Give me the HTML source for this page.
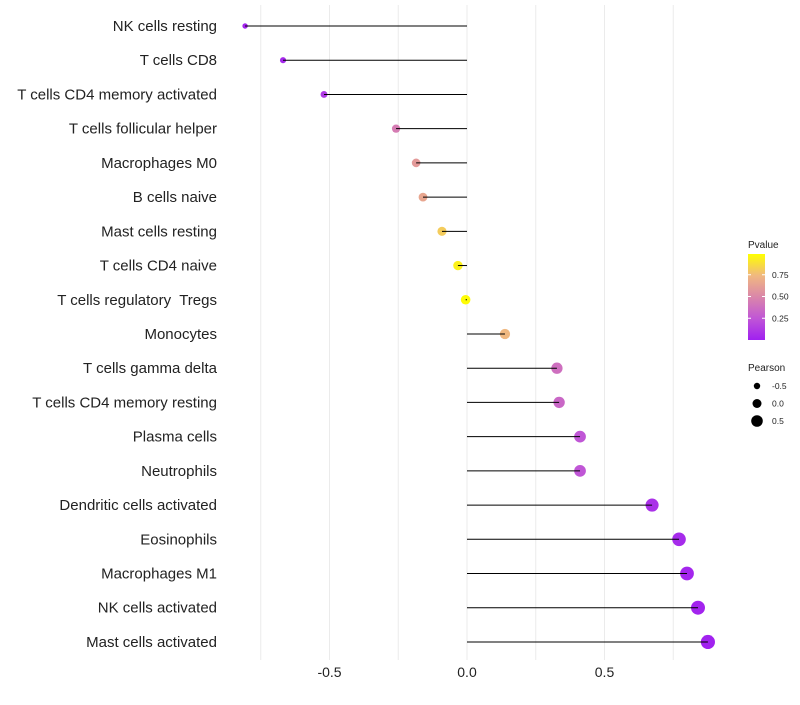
<!DOCTYPE html>
<html><head><meta charset="utf-8"><style>
body{margin:0;background:#fff;font-family:"Liberation Sans",sans-serif}
text{white-space:pre}
</style></head><body>
<svg id="chart" width="800" height="700" xmlns="http://www.w3.org/2000/svg" font-family="Liberation Sans, sans-serif"></svg>
<script>
const categories=["NK cells resting","T cells CD8","T cells CD4 memory activated","T cells follicular helper","Macrophages M0","B cells naive","Mast cells resting","T cells CD4 naive","T cells regulatory  Tregs","Monocytes","T cells gamma delta","T cells CD4 memory resting","Plasma cells","Neutrophils","Dendritic cells activated","Eosinophils","Macrophages M1","NK cells activated","Mast cells activated"];
const pearson=[-0.807,-0.669,-0.52,-0.258,-0.185,-0.16,-0.091,-0.033,-0.005,0.138,0.327,0.335,0.411,0.411,0.673,0.771,0.8,0.84,0.876];
const pvalue=[0.02,0.04,0.12,0.45,0.6,0.66,0.82,0.95,0.99,0.75,0.38,0.34,0.25,0.25,0.08,0.05,0.03,0.02,0.01];
const xTicks=[-0.5,0,0.5];
const xTickLabels=["-0.5","0.0","0.5"];
const xGrid=[-0.75,-0.5,-0.25,0,0.25,0.5,0.75];
const pTicks=[0.25,0.5,0.75];
const sizeLegend=[-0.5,0,0.5];

const NS="http://www.w3.org/2000/svg";
const svg=document.getElementById('chart');
function mk(t,a,p){const e=document.createElementNS(NS,t);for(const k in a)e.setAttribute(k,a[k]);(p||svg).appendChild(e);return e;}
const x=v=>467+v*275;
const y=i=>26+i*34.22;
const r=v=>4.8+2.6*v;
const stops=[[0,[160,32,240]],[0.25,[192,86,214]],[0.5,[218,134,170]],[0.75,[240,184,128]],[1,[255,255,0]]];
function col(p){for(let i=1;i<stops.length;i++){if(p<=stops[i][0]){const a=stops[i-1],b=stops[i];const t=(p-a[0])/(b[0]-a[0]);return 'rgb('+a[1].map((c,j)=>Math.round(c+(b[1][j]-c)*t)).join(',')+')';}}return 'rgb(255,255,0)';}

xGrid.forEach(g=>{const l=mk('line',{x1:x(g),x2:x(g),y1:5,y2:660,stroke:'#ebebeb','stroke-width':1});

});
xTicks.forEach((t,i)=>{const e=mk('text',{x:x(t),y:677,'text-anchor':'middle','font-size':14,fill:'#222'});e.textContent=xTickLabels[i];

});
categories.forEach((c,i)=>{
const t=mk('text',{x:217,y:y(i)+5,'text-anchor':'end','font-size':15,fill:'#222'});t.textContent=c;


const cc=mk('circle',{cx:x(pearson[i]),cy:y(i),r:r(pearson[i]),fill:col(pvalue[i])});


const l=mk('line',{x1:x(0),x2:x(pearson[i]),y1:y(i),y2:y(i),stroke:'#000','stroke-width':1});


});
const lg=mk('g',{});


const tt=mk('text',{x:748,y:248,'font-size':10,fill:'#222'},lg);tt.textContent='Pvalue';
const defs=mk('defs',{});const gr=mk('linearGradient',{id:'pg',x1:0,y1:1,x2:0,y2:0},defs);
stops.forEach(s=>mk('stop',{offset:s[0],'stop-color':col(s[0])},gr));
mk('rect',{x:748,y:254,width:17,height:86,fill:'url(#pg)'},lg);
const py=p=>340-p*87;
pTicks.forEach(p=>{mk('line',{x1:748,x2:751,y1:py(p),y2:py(p),stroke:'#fff'},lg);mk('line',{x1:762,x2:765,y1:py(p),y2:py(p),stroke:'#fff'},lg);
const e=mk('text',{x:772,y:py(p)+3,'font-size':8.5,fill:'#222'},lg);e.textContent=p.toFixed(2);});
const sg=mk('g',{});


const st=mk('text',{x:748,y:371,'font-size':10,fill:'#222'},sg);st.textContent='Pearson';
sizeLegend.forEach((v,i)=>{mk('circle',{cx:757,cy:386+i*17.5,r:4.5+2.6*v,fill:'#000'},sg);
const e=mk('text',{x:772,y:389+i*17.5,'font-size':8.5,fill:'#222'},sg);e.textContent=v===0?'0.0':String(v);});
</script>
</body></html>
